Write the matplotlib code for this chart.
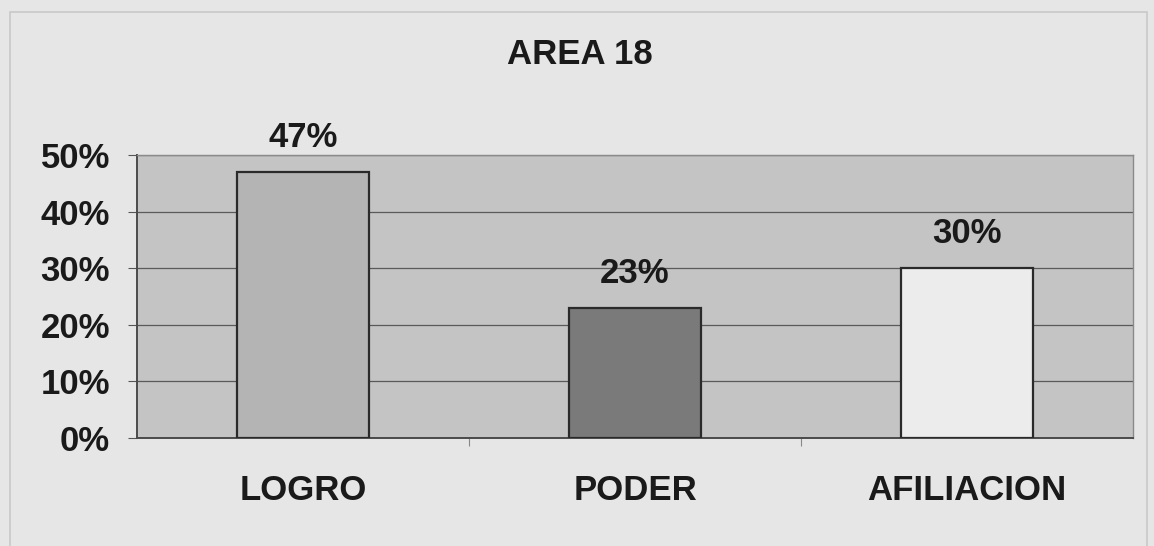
import matplotlib
matplotlib.use("Agg")
import matplotlib.pyplot as plt
from matplotlib.patches import Rectangle

categories = ["LOGRO", "PODER", "AFILIACION"]
values = [47, 23, 30]
value_labels = ["47%", "23%", "30%"]
bar_colors = ["#b4b4b4", "#7a7a7a", "#ececec"]
yticks = [0, 10, 20, 30, 40, 50]
title = "AREA 18"

plt.rcParams["font.family"] = ["Liberation Sans", "DejaVu Sans"]
plt.rcParams["font.weight"] = "bold"
FS = 25

fig = plt.figure(figsize=(11.54, 5.46), dpi=100, facecolor="#e6e6e6")
fig.patches.append(Rectangle((0.009, -0.01), 0.985, 0.988, transform=fig.transFigure,
                             fill=False, edgecolor="#c8c8c8", linewidth=1.2))

ax = fig.add_axes([137 / 1154, 1 - 438 / 546, 996 / 1154, 283 / 546])
ax.set_facecolor("#c4c4c4")
x = range(len(categories))
ax.bar(x, values, width=0.4, color=bar_colors, edgecolor="#2a2a2a", linewidth=1.6, zorder=3)
for i, (v, lab) in enumerate(zip(values, value_labels)):
    ax.text(i, v + 4.4, lab, ha="center", va="baseline", fontsize=FS, fontweight="bold",
            color="#1a1a1a", clip_on=False)

ax.set_xlim(-0.5, 2.5)
ax.set_ylim(0, 50)
ax.set_yticks(yticks)
ax.set_yticklabels([f"{t}%" for t in yticks], fontsize=FS, fontweight="bold", color="#1a1a1a")
ax.set_xticks([0.5, 1.5], minor=False)
ax.set_xticklabels([])
ax.set_xticks(list(x), minor=True)
ax.set_xticklabels(categories, minor=True, fontsize=FS, fontweight="bold", color="#1a1a1a")
ax.tick_params(axis="x", which="minor", length=0, pad=26)
ax.tick_params(axis="x", which="major", length=6, color="#888888", direction="out")
ax.tick_params(axis="y", length=6.5, color="#555555", pad=13)
ax.yaxis.grid(True, color="#5a5a5a", linewidth=0.9, zorder=1)
ax.set_axisbelow(True)
for side in ["top", "right"]:
    ax.spines[side].set_color("#8a8a8a")
    ax.spines[side].set_linewidth(1.0)
for side in ["left", "bottom"]:
    ax.spines[side].set_color("#4a4a4a")
    ax.spines[side].set_linewidth(1.4)

fig.text(580 / 1154, 1 - 55 / 546, title, ha="center", va="center", fontsize=FS,
         fontweight="bold", color="#1a1a1a")

fig.savefig("out.png", dpi=100, facecolor=fig.get_facecolor())
